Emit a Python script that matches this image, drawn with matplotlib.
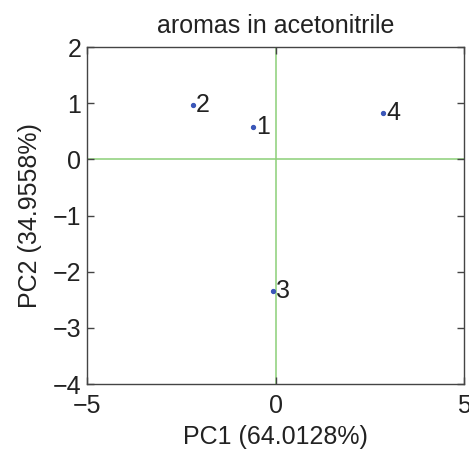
import matplotlib
matplotlib.use("Agg")
import matplotlib.pyplot as plt

plt.rcParams['font.family'] = ['Liberation Sans', 'DejaVu Sans']

# PCA scores of the four aromas
labels = ["1", "2", "3", "4"]
pc1 = [-0.60, -2.20, -0.07, 2.86]
pc2 = [0.57, 0.97, -2.34, 0.82]

xticks = [-5, 0, 5]
yticks = [-4, -3, -2, -1, 0, 1, 2]

fig = plt.figure(figsize=(4.69, 4.50), dpi=100)
ax = fig.add_axes([87 / 469, 1 - 384 / 450, (464 - 87) / 469, (384 - 47) / 450])

green = "#8ccf78"
ax.axhline(0, color=green, lw=1.1, zorder=1)
ax.axvline(0, color=green, lw=1.1, zorder=1)

ax.plot(pc1, pc2, linestyle="none", marker="o", markersize=2.8,
        color="#3a56b8", zorder=3)
for x, y, t in zip(pc1, pc2, labels):
    ax.text(x + 0.08, y, t, fontsize=18, va="center", ha="left", color="#222222")

ax.set_xlim(-5, 5)
ax.set_ylim(-4, 2)
ax.set_xticks(xticks)
ax.set_yticks(yticks)
ax.set_xticklabels([str(v).replace("-", "\u2212") for v in xticks])
ax.set_yticklabels([str(v).replace("-", "\u2212") for v in yticks])

for s in ax.spines.values():
    s.set_color("#444444")
    s.set_linewidth(1.0)
ax.tick_params(direction="in", length=5, width=1.0, color="#444444",
               labelsize=18, labelcolor="#222222", top=True, right=True)
ax.tick_params(axis="x", pad=7)
ax.tick_params(axis="y", pad=4)

ax.set_xlabel("PC1 (64.0128%)", fontsize=18, color="#222222", labelpad=5)
ax.set_ylabel("PC2 (34.9558%)", fontsize=18, color="#222222", labelpad=8)
ax.set_title("aromas in acetonitrile", fontsize=18, color="#222222", pad=10)

fig.savefig("out.png", dpi=100, facecolor="white")
